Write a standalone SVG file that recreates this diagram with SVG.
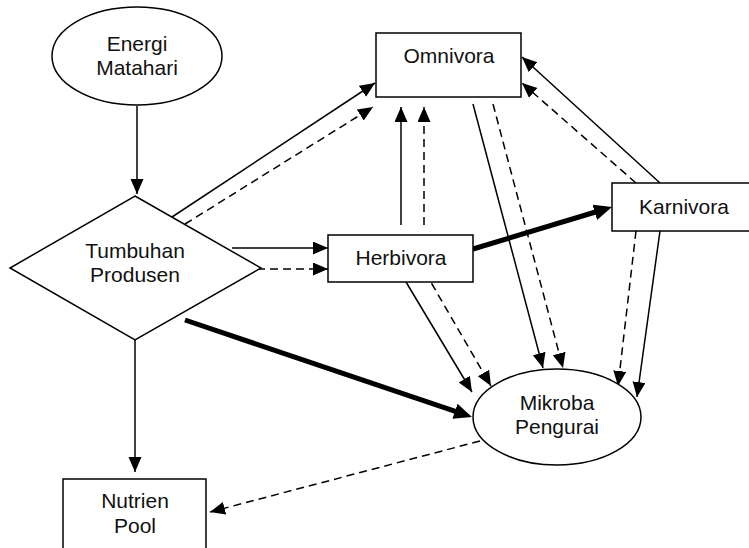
<svg xmlns="http://www.w3.org/2000/svg" width="749" height="548" viewBox="0 0 749 548">
<defs>
<style>
.shape{fill:#fff;stroke:#000;stroke-width:1.5}
.lbl{font-family:"Liberation Sans",Arial,sans-serif;font-size:21px;fill:#111;text-anchor:middle}
.ln{fill:none;stroke:#000;stroke-width:1.5;marker-end:url(#ah)}
.dash{stroke-dasharray:8,5}
.thick{fill:none;stroke:#000;stroke-width:5;marker-end:url(#ahb)}
</style>
<marker id="ah" markerUnits="userSpaceOnUse" markerWidth="16" markerHeight="14" refX="15" refY="6.5" orient="auto">
<path d="M0,0 L15,6.5 L0,13 z" fill="#000"/>
</marker>
<marker id="ahb" markerUnits="userSpaceOnUse" markerWidth="19" markerHeight="17" refX="6" refY="8" orient="auto">
<path d="M0,0 L18,8 L0,16 z" fill="#000"/>
</marker>
</defs>
<rect width="749" height="548" fill="#fff"/>
<g id="connectors">
<line class="ln" x1="137" y1="106" x2="137" y2="194"/>
<line class="ln" x1="172" y1="217" x2="375" y2="83"/>
<line class="ln dash" x1="185" y1="224" x2="373" y2="107"/>
<line class="ln" x1="232" y1="248" x2="328" y2="248"/>
<line class="ln dash" x1="257" y1="269" x2="328" y2="269"/>
<line class="ln" x1="135" y1="340" x2="135" y2="472"/>
<line class="thick" x1="185" y1="320" x2="460.6" y2="413.2"/>
<line class="ln" x1="401" y1="225" x2="401" y2="107"/>
<line class="ln dash" x1="424" y1="225" x2="424" y2="107"/>
<line class="thick" x1="473" y1="249" x2="600.5" y2="210.5"/>
<line class="ln" x1="400" y1="272" x2="472" y2="392"/>
<line class="ln dash" x1="425" y1="272" x2="491" y2="386"/>
<line class="ln" x1="473" y1="104" x2="543" y2="368"/>
<line class="ln dash" x1="493" y1="104" x2="563" y2="368"/>
<line class="ln" x1="660" y1="183" x2="522" y2="57"/>
<line class="ln dash" x1="636" y1="183" x2="522" y2="83"/>
<line class="ln dash" x1="636" y1="231" x2="618" y2="386"/>
<line class="ln" x1="660" y1="231" x2="637" y2="397"/>
<line class="ln dash" x1="480" y1="441" x2="210" y2="512"/>
</g>
<g id="energi">
<ellipse class="shape" cx="137" cy="56" rx="85" ry="49"/>
<text class="lbl" x="137" y="51">Energi</text>
<text class="lbl" x="137" y="75">Matahari</text>
</g>
<g id="tumbuhan">
<polygon class="shape" points="135,196 261,268 135,340 10,268"/>
<text class="lbl" x="135" y="258">Tumbuhan</text>
<text class="lbl" x="135" y="282">Produsen</text>
</g>
<g id="omnivora">
<rect class="shape" x="376" y="33" width="145" height="64"/>
<text class="lbl" x="449" y="63">Omnivora</text>
</g>
<g id="herbivora">
<rect class="shape" x="328" y="235" width="145" height="47"/>
<text class="lbl" x="401" y="265">Herbivora</text>
</g>
<g id="karnivora">
<rect class="shape" x="612" y="183" width="143" height="48"/>
<text class="lbl" x="684" y="214">Karnivora</text>
</g>
<g id="mikroba">
<ellipse class="shape" cx="557" cy="417" rx="84" ry="48"/>
<text class="lbl" x="557" y="410">Mikroba</text>
<text class="lbl" x="557" y="434">Pengurai</text>
</g>
<g id="nutrien">
<rect class="shape" x="63" y="479" width="143" height="80"/>
<text class="lbl" x="135" y="508">Nutrien</text>
<text class="lbl" x="135" y="533">Pool</text>
</g>
</svg>
